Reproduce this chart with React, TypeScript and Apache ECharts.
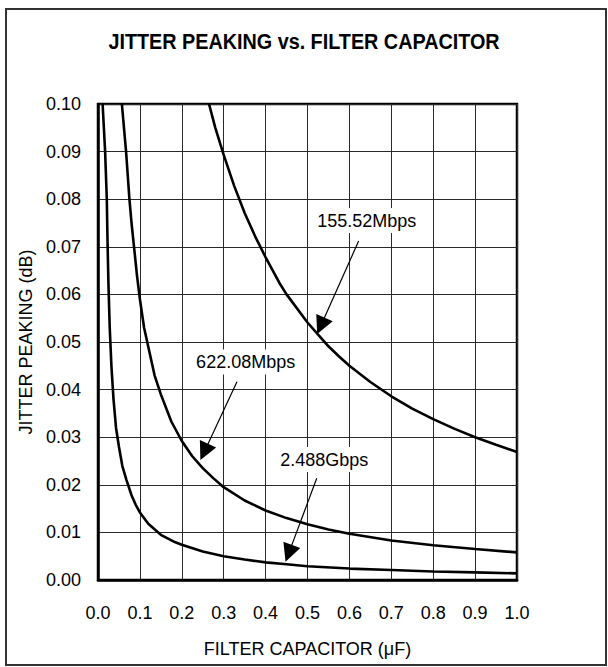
import React, { useEffect, useRef } from "react";
import * as echarts from "echarts";

const titleText = "JITTER PEAKING vs. FILTER CAPACITOR";
const xAxisName = "FILTER CAPACITOR (\u03bcF)";
const yAxisName = "JITTER PEAKING (dB)";

const xTickLabels = ["0.0", "0.1", "0.2", "0.3", "0.4", "0.5", "0.6", "0.7", "0.8", "0.9", "1.0"];
const yTickLabels = ["0.00", "0.01", "0.02", "0.03", "0.04", "0.05", "0.06", "0.07", "0.08", "0.09", "0.10"];

const seriesNames = ["155.52Mbps", "622.08Mbps", "2.488Gbps"];

// 155.52Mbps curve
const cap155 = [0.265, 0.28, 0.3, 0.325, 0.35, 0.375, 0.4, 0.433, 0.45, 0.5, 0.529, 0.55, 0.576, 0.6, 0.65, 0.7, 0.75, 0.8, 0.85, 0.9, 0.95, 1.0];
const peak155 = [0.1, 0.095, 0.0893, 0.0828, 0.0771, 0.0722, 0.0678, 0.0624, 0.06, 0.0541, 0.0512, 0.0491, 0.0469, 0.045, 0.0416, 0.0386, 0.036, 0.0338, 0.0318, 0.03, 0.0284, 0.0269];

// 622.08Mbps curve
const cap622 = [0.057, 0.062, 0.067, 0.071, 0.075, 0.08, 0.086, 0.093, 0.1, 0.11, 0.12, 0.135, 0.15, 0.175, 0.2, 0.225, 0.25, 0.275, 0.3, 0.35, 0.4, 0.45, 0.5, 0.55, 0.6, 0.7, 0.8, 0.9, 1.0];
const peak622 = [0.1, 0.095, 0.09, 0.085, 0.08, 0.075, 0.07, 0.064, 0.059, 0.053, 0.049, 0.043, 0.039, 0.0333, 0.0292, 0.026, 0.0235, 0.0214, 0.0195, 0.0167, 0.0146, 0.013, 0.0117, 0.0106, 0.0097, 0.0083, 0.0073, 0.0065, 0.0058];

// 2.488Gbps curve
const cap2488 = [0.011, 0.014, 0.017, 0.021, 0.023, 0.025, 0.028, 0.032, 0.037, 0.043, 0.05, 0.058, 0.068, 0.08, 0.09, 0.1, 0.12, 0.15, 0.18, 0.2, 0.25, 0.3, 0.35, 0.4, 0.45, 0.5, 0.6, 0.7, 0.8, 0.9, 1.0];
const peak2488 = [0.1, 0.095, 0.09, 0.08, 0.07, 0.062, 0.053, 0.045, 0.038, 0.032, 0.028, 0.024, 0.021, 0.0178, 0.0158, 0.0142, 0.0118, 0.0095, 0.0081, 0.0074, 0.006, 0.005, 0.0043, 0.0037, 0.0033, 0.0029, 0.0024, 0.0021, 0.0018, 0.0016, 0.0014];

// annotation positions (data coordinates)
const labelX = [0.6412, 0.3524, 0.5398];
const labelY = [0.0755, 0.0458, 0.0253];
const arrowFromX = [0.622, 0.3317, 0.5221];
const arrowFromY = [0.0712, 0.04166, 0.02137];
const arrowToX = [0.5318, 0.2535, 0.4551];
const arrowToY = [0.0534, 0.0269, 0.0056];

const capValues = [cap155, cap622, cap2488];
const peakValues = [peak155, peak622, peak2488];

const FONT = "'Liberation Sans', Arial, Helvetica, sans-serif";

function buildOption() {
  const series = seriesNames.map((name, i) => ({
    name,
    type: "line",
    showSymbol: false,
    symbol: "none",
    clip: true,
    data: capValues[i].map((c, j) => [c, peakValues[i][j]]),
    lineStyle: { color: "#000", width: 2.6 },
    z: 3,
    markLine: {
      silent: true,
      symbol: ["none", "triangle"],
      symbolSize: 18,
      lineStyle: { color: "#000", width: 1.2, type: "solid" },
      label: { show: false },
      itemStyle: { color: "#000" },
      data: [[{ coord: [arrowFromX[i], arrowFromY[i]] }, { coord: [arrowToX[i], arrowToY[i]] }]],
    },
    markPoint: {
      silent: true,
      symbol: "rect",
      symbolSize: 1,
      itemStyle: { color: "rgba(0,0,0,0)" },
      label: {
        show: true,
        position: "inside",
        formatter: (p: any) => p.name,
        color: "#000",
        fontSize: 18,
        fontFamily: FONT,
        backgroundColor: "#fff",
        padding: [4, 4, 3, 4],
      },
      data: [{ name, coord: [labelX[i], labelY[i]] }],
    },
  }));

  return {
    animation: false,
    backgroundColor: "#fff",
    graphic: [
      {
        type: "rect",
        silent: true,
        shape: { x: 6, y: 9, width: 600, height: 656 },
        style: { fill: "none", stroke: "#333", lineWidth: 2 },
      },
      {
        type: "text",
        silent: true,
        x: 304,
        y: 41,
        scaleX: 0.9,
        style: {
          text: titleText,
          fontFamily: FONT,
          fontWeight: "bold",
          fontSize: 22,
          fill: "#000",
          align: "center",
          verticalAlign: "middle",
          textAlign: "center",
          textVerticalAlign: "middle",
        },
      },
    ],
    grid: {
      left: 98,
      top: 104,
      right: 91,
      bottom: 87,
      show: true,
      borderColor: "#000",
      borderWidth: 2.5,
      backgroundColor: "transparent",
    },
    xAxis: {
      type: "value",
      min: 0,
      max: 1,
      interval: 0.1,
      name: xAxisName,
      nameLocation: "middle",
      nameGap: 60,
      nameTextStyle: { fontFamily: FONT, fontSize: 18, color: "#000" },
      axisLine: { show: true, lineStyle: { color: "#000", width: 2.5 } },
      axisTick: { show: false },
      axisLabel: {
        margin: 24,
        fontFamily: FONT,
        fontSize: 18,
        color: "#000",
        formatter: (v: number) => xTickLabels[Math.round(v * 10)] ?? "",
      },
      splitLine: { show: true, lineStyle: { color: "#2a2a2a", width: 1 } },
    },
    yAxis: {
      type: "value",
      min: 0,
      max: 0.1,
      interval: 0.01,
      name: yAxisName,
      nameLocation: "middle",
      nameRotate: 90,
      nameGap: 62,
      nameTextStyle: { fontFamily: FONT, fontSize: 18, color: "#000" },
      axisLine: { show: true, lineStyle: { color: "#000", width: 2.5 } },
      axisTick: { show: false },
      axisLabel: {
        margin: 17,
        fontFamily: FONT,
        fontSize: 18,
        color: "#000",
        formatter: (v: number) => yTickLabels[Math.round(v * 100)] ?? "",
      },
      splitLine: { show: true, lineStyle: { color: "#2a2a2a", width: 1 } },
    },
    series,
  };
}

export default function App() {
  const ref = useRef<HTMLDivElement>(null);
  useEffect(() => {
    if (!ref.current) return;
    const chart = echarts.init(ref.current, null, { renderer: "svg" });
    chart.setOption(buildOption() as any);
    return () => chart.dispose();
  }, []);
  return (
    <div
      ref={ref}
      style={{ position: "absolute", left: 0, top: 0, width: 608, height: 667, background: "#fff" }}
    />
  );
}
